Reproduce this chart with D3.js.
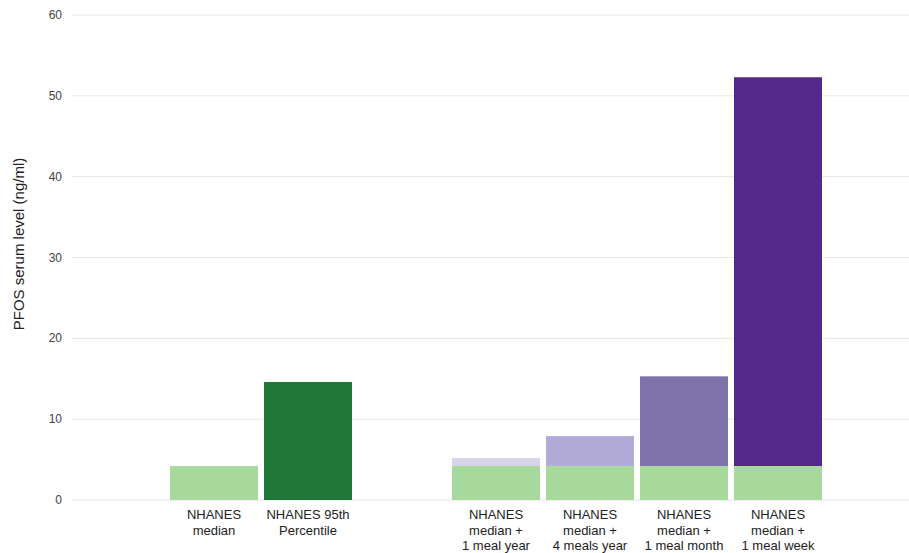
<!DOCTYPE html>
<html>
<head>
<meta charset="utf-8">
<script src="https://cdn.jsdelivr.net/npm/d3@7"></script>
<style>
  body { margin: 0; background: #fff; }
  text { font-family: "Liberation Sans", Arial, sans-serif; }
</style>
</head>
<body>
<div id="chart"></div>
<script>
// slots (blank ones leave the gaps seen in the chart)
var slots = ["b0", "median", "p95", "b3", "year1", "year4", "month1", "week1", "b8"];
var labels = {
  median: ["NHANES", "median"],
  p95: ["NHANES 95th", "Percentile"],
  year1: ["NHANES", "median +", "1 meal year"],
  year4: ["NHANES", "median +", "4 meals year"],
  month1: ["NHANES", "median +", "1 meal month"],
  week1: ["NHANES", "median +", "1 meal week"]
};
// base (NHANES median) and the total of each bar
var baseValues = { median: 4.2, p95: 14.6, year1: 4.2, year4: 4.2, month1: 4.2, week1: 4.2 };
var totalValues = { year1: 5.2, year4: 7.9, month1: 15.3, week1: 52.3 };
var yTicks = [0, 10, 20, 30, 40, 50, 60];

var baseColor = { median: "#a6d99b", p95: "#1f7737", year1: "#a6d99b", year4: "#a6d99b", month1: "#a6d99b", week1: "#a6d99b" };
var topColor = { year1: "#d6d4e9", year4: "#b1a9d6", month1: "#7f73ac", week1: "#54278a" };

var W = 909, H = 553;
var svg = d3.select("#chart").append("svg")
  .attr("width", W).attr("height", H);

var y = d3.scaleLinear().domain([0, 60]).range([500, 15]);
var x = d3.scaleBand().domain(slots).range([73, 919])
  .paddingInner(0.064).paddingOuter(0.032);

// gridlines
svg.append("g").selectAll("line").data(yTicks).enter().append("line")
  .attr("x1", 72).attr("x2", W)
  .attr("y1", function(d){ return y(d); })
  .attr("y2", function(d){ return y(d); })
  .attr("stroke", "#e6e6e6").attr("stroke-width", 1);

// tick labels
svg.append("g").selectAll("text").data(yTicks).enter().append("text")
  .attr("x", 62).attr("y", function(d){ return y(d) + 4; })
  .attr("text-anchor", "end")
  .attr("font-size", 12).attr("fill", "#444")
  .text(function(d){ return d; });

// y label
svg.append("text")
  .attr("transform", "translate(24,244) rotate(-90)")
  .attr("text-anchor", "middle")
  .attr("font-size", 15).attr("fill", "#222")
  .text("PFOS serum level (ng/ml)");

var cats = Object.keys(baseValues);

// stacked top parts
svg.append("g").selectAll("rect").data(Object.keys(totalValues)).enter().append("rect")
  .attr("x", function(d){ return x(d); })
  .attr("width", x.bandwidth())
  .attr("y", function(d){ return y(totalValues[d]); })
  .attr("height", function(d){ return y(baseValues[d]) - y(totalValues[d]); })
  .attr("fill", function(d){ return topColor[d]; });

// base parts
svg.append("g").selectAll("rect").data(cats).enter().append("rect")
  .attr("x", function(d){ return x(d); })
  .attr("width", x.bandwidth())
  .attr("y", function(d){ return y(baseValues[d]); })
  .attr("height", function(d){ return y(0) - y(baseValues[d]); })
  .attr("fill", function(d){ return baseColor[d]; });

// category labels
var lab = svg.append("g").selectAll("text").data(cats).enter().append("text")
  .attr("x", function(d){ return x(d) + x.bandwidth() / 2; })
  .attr("text-anchor", "middle")
  .attr("font-size", 13).attr("fill", "#222");
lab.each(function(d){
  var t = d3.select(this);
  labels[d].forEach(function(line, i){
    t.append("tspan")
      .attr("x", x(d) + x.bandwidth() / 2)
      .attr("y", 519 + i * 15.5)
      .text(line);
  });
});
</script>
</body>
</html>
